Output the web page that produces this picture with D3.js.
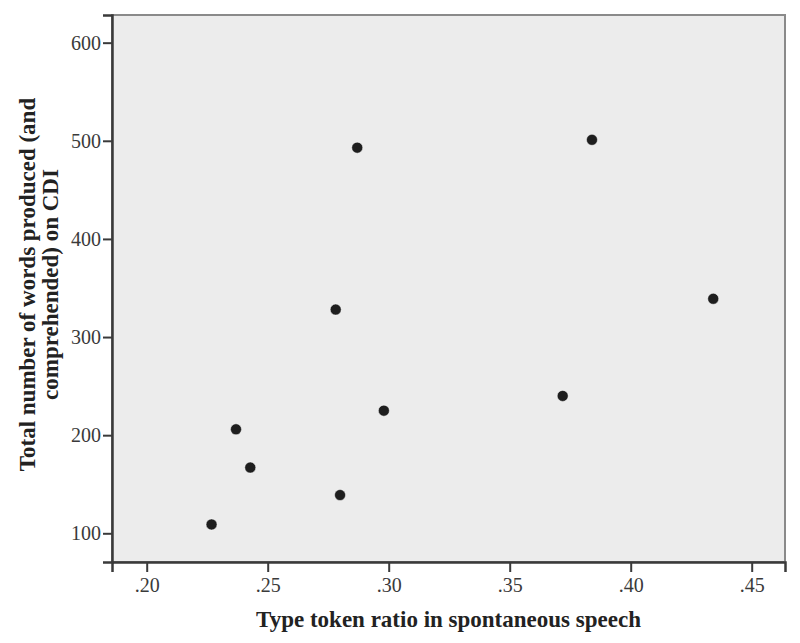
<!DOCTYPE html>
<html>
<head>
<meta charset="utf-8">
<script src="https://cdn.jsdelivr.net/npm/d3@7"></script>
<style>
  body { margin: 0; background: #fff; }
  svg text { font-family: "Liberation Serif", "Times New Roman", serif; }
</style>
</head>
<body>
<svg id="chart"></svg>
<script>
// Data
const typeTokenRatio = [0.2268, 0.2369, 0.2428, 0.2781, 0.2799, 0.2870, 0.2980, 0.3719, 0.3840, 0.4341];
const totalWords     = [109, 206, 167, 328, 139, 493, 225, 240, 501, 339];

const xTicks = [0.20, 0.25, 0.30, 0.35, 0.40, 0.45];
const yTicks = [100, 200, 300, 400, 500, 600];

const xTitle = "Type token ratio in spontaneous speech";
const yTitle = ["Total number of words produced (and", "comprehended) on CDI"];

// Layout
const width = 800, height = 643;
const margin = { left: 112, top: 15, right: 15, bottom: 81 };
const plotW = width - margin.left - margin.right;
const plotH = height - margin.top - margin.bottom;

const svg = d3.select("#chart")
    .attr("width", width)
    .attr("height", height);

const x = d3.scaleLinear().domain([0.18566, 0.46376]).range([0, plotW]);
const y = d3.scaleLinear().domain([70.75, 628.2]).range([plotH, 0]);

const g = svg.append("g").attr("transform", `translate(${margin.left},${margin.top})`);

// plot background + light frame on top/right
g.append("rect")
    .attr("width", plotW).attr("height", plotH)
    .attr("fill", "#ececec")
    .attr("stroke", "#8a8a8a").attr("stroke-width", 2);

const fmt = d => d3.format(".2f")(d).replace(/^0/, "");

const xAxis = g.append("g")
    .attr("transform", `translate(0,${plotH})`)
    .call(d3.axisBottom(x).tickValues(xTicks).tickFormat(fmt).tickSizeOuter(0).tickSize(10).tickPadding(6));

const yAxis = g.append("g")
    .call(d3.axisLeft(y).tickValues(yTicks).tickSizeOuter(0).tickSize(9).tickPadding(2));

[xAxis, yAxis].forEach(a => {
    a.select(".domain").attr("stroke", "#3a3a3a").attr("stroke-width", 2.5);
    a.selectAll(".tick line").attr("stroke", "#3a3a3a").attr("stroke-width", 2);
    a.selectAll(".tick text")
        .attr("fill", "#3a3a3a")
        .style("font-family", "'Liberation Serif', serif")
        .style("font-size", "20px");
});

// points
g.selectAll(".dot")
    .data(typeTokenRatio.map((v, i) => [v, totalWords[i]]))
    .enter()
    .append("circle")
    .attr("class", "dot")
    .attr("cx", d => x(d[0]))
    .attr("cy", d => y(d[1]))
    .attr("r", 5.5)
    .attr("fill", "#1e1e1e")
    .attr("stroke", "#fff")
    .attr("stroke-width", 0.8)
    .attr("stroke-opacity", 0.6);

// axis titles
svg.append("text")
    .attr("x", margin.left + plotW / 2)
    .attr("y", 627)
    .attr("text-anchor", "middle")
    .attr("fill", "#222")
    .style("font-weight", "bold")
    .style("font-size", "23px")
    .text(xTitle);

const yt = svg.append("text")
    .attr("transform", `translate(35,${margin.top + plotH / 2 - 4}) rotate(-90)`)
    .attr("text-anchor", "middle")
    .attr("fill", "#222")
    .style("font-weight", "bold")
    .style("font-size", "23px");

yt.selectAll("tspan")
    .data(yTitle)
    .enter()
    .append("tspan")
    .attr("x", 0)
    .attr("dy", (d, i) => i === 0 ? 0 : 23)
    .text(d => d);
</script>
</body>
</html>
